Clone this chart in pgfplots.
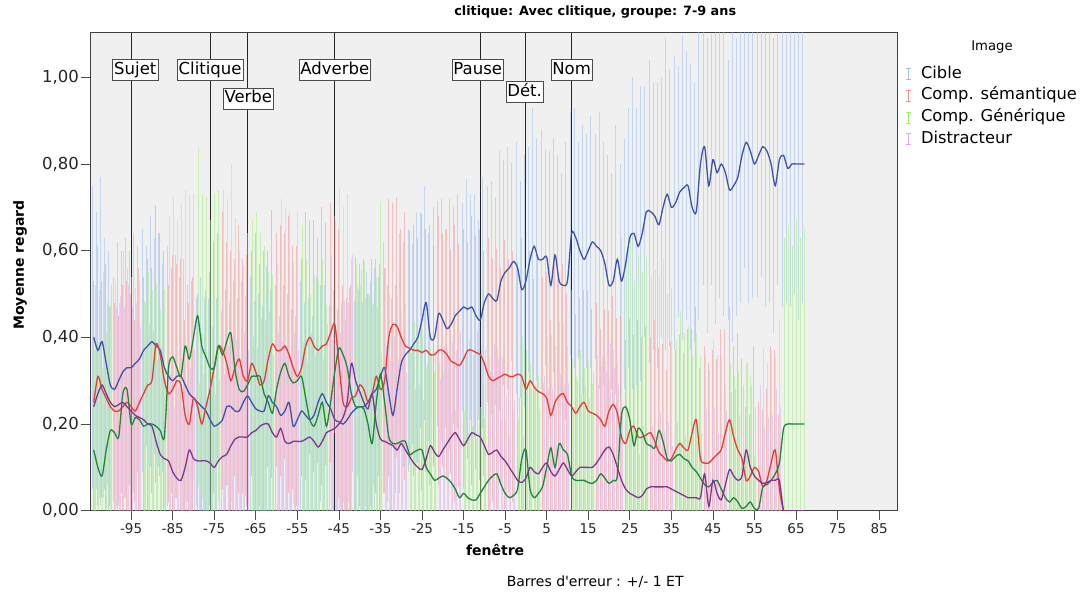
\documentclass[border=0pt]{standalone}
\usepackage{pgfplots}
\pgfplotsset{compat=1.18}
\usepackage{pgfplotstable}
\usepackage{fontspec}
\setmainfont{DejaVu Sans}[Ligatures=TeXOff]
\definecolor{cibD}{RGB}{62,84,168}
\definecolor{semD}{RGB}{230,60,55}
\definecolor{genD}{RGB}{30,135,60}
\definecolor{disD}{RGB}{125,55,145}
\definecolor{cibL}{RGB}{150,190,240}
\definecolor{semL}{RGB}{245,140,140}
\definecolor{genL}{RGB}{150,245,110}
\definecolor{disL}{RGB}{215,170,240}
\definecolor{bg}{RGB}{240,240,240}

\pgfplotstableread{
x cib csd sem ssd gen gsd dis dsd
-104 0.40 0.35 0.25 0.28 0.14 0.23 0.24 0.28
-103 0.37 0.32 0.31 0.30 0.10 0.29 0.27 0.24
-102 0.39 0.38 0.28 0.25 0.08 0.25 0.29 0.26
-101 0.34 0.29 0.26 0.31 0.14 0.27 0.27 0.21
-100 0.29 0.31 0.24 0.23 0.185 0.29 0.25 0.27
-99 0.28 0.26 0.23 0.25 0.18 0.35 0.24 0.23
-98 0.30 0.32 0.23 0.22 0.17 0.31 0.245 0.25
-97 0.32 0.28 0.24 0.28 0.27 0.33 0.25 0.22
-96 0.33 0.30 0.25 0.28 0.28 0.28 0.24 0.28
-95 0.33 0.27 0.24 0.26 0.20 0.34 0.23 0.24
-94 0.34 0.30 0.23 0.21 0.215 0.30 0.22 0.26
-93 0.35 0.26 0.25 0.31 0.21 0.32 0.215 0.21
-92 0.37 0.28 0.27 0.27 0.195 0.29 0.21 0.27
-91 0.38 0.23 0.29 0.29 0.20 0.35 0.20 0.23
-90 0.39 0.29 0.30 0.26 0.20 0.31 0.195 0.22
-89 0.38 0.25 0.385 0.32 0.195 0.33 0.16 0.19
-88 0.37 0.27 0.36 0.28 0.185 0.28 0.13 0.25
-87 0.33 0.24 0.30 0.30 0.17 0.34 0.12 0.21
-86 0.31 0.30 0.27 0.25 0.33 0.35 0.115 0.20
-85 0.30 0.26 0.28 0.31 0.355 0.37 0.09 0.15
-84 0.31 0.28 0.30 0.27 0.33 0.34 0.075 0.21
-83 0.31 0.23 0.29 0.29 0.31 0.40 0.07 0.17
-82 0.29 0.29 0.22 0.22 0.38 0.36 0.10 0.19
-81 0.27 0.25 0.20 0.28 0.35 0.38 0.14 0.19
-80 0.26 0.27 0.26 0.28 0.40 0.33 0.12 0.25
-79 0.25 0.24 0.24 0.26 0.45 0.39 0.115 0.18
-78 0.24 0.30 0.20 0.21 0.38 0.35 0.115 0.20
-77 0.23 0.26 0.24 0.27 0.355 0.37 0.115 0.15
-76 0.21 0.28 0.28 0.27 0.33 0.34 0.11 0.21
-75 0.195 0.23 0.33 0.29 0.33 0.40 0.10 0.17
-74 0.20 0.29 0.38 0.26 0.38 0.36 0.115 0.19
-73 0.21 0.25 0.37 0.32 0.36 0.38 0.125 0.19
-72 0.24 0.27 0.34 0.28 0.39 0.33 0.13 0.25
-71 0.24 0.24 0.30 0.30 0.41 0.39 0.15 0.21
-70 0.23 0.30 0.33 0.25 0.325 0.35 0.165 0.23
-69 0.23 0.26 0.35 0.31 0.28 0.32 0.17 0.18
-68 0.25 0.28 0.31 0.27 0.275 0.29 0.17 0.24
-67 0.265 0.23 0.30 0.29 0.29 0.35 0.17 0.20
-66 0.25 0.29 0.34 0.26 0.31 0.36 0.18 0.22
-65 0.235 0.25 0.32 0.32 0.31 0.38 0.185 0.19
-64 0.23 0.27 0.29 0.28 0.31 0.33 0.195 0.25
-63 0.23 0.24 0.30 0.30 0.27 0.34 0.20 0.24
-62 0.265 0.30 0.35 0.25 0.25 0.30 0.20 0.26
-61 0.25 0.26 0.385 0.31 0.225 0.32 0.18 0.18
-60 0.24 0.28 0.37 0.27 0.28 0.29 0.17 0.24
-59 0.22 0.23 0.37 0.29 0.32 0.40 0.19 0.20
-58 0.23 0.29 0.38 0.26 0.34 0.36 0.16 0.22
-57 0.25 0.25 0.36 0.32 0.31 0.38 0.155 0.19
-56 0.195 0.27 0.33 0.28 0.295 0.28 0.16 0.25
-55 0.21 0.24 0.31 0.30 0.30 0.39 0.16 0.21
-54 0.23 0.30 0.33 0.25 0.31 0.35 0.16 0.23
-53 0.22 0.26 0.38 0.31 0.26 0.32 0.165 0.18
-52 0.21 0.28 0.40 0.27 0.21 0.29 0.17 0.24
-51 0.22 0.23 0.38 0.29 0.195 0.35 0.16 0.20
-50 0.25 0.29 0.37 0.26 0.22 0.31 0.147 0.22
-49 0.27 0.25 0.38 0.32 0.25 0.33 0.16 0.19
-48 0.25 0.27 0.385 0.28 0.195 0.28 0.18 0.25
-47 0.235 0.24 0.41 0.30 0.25 0.34 0.185 0.21
-46 0.21 0.30 0.43 0.25 0.32 0.35 0.19 0.23
-45 0.205 0.26 0.34 0.31 0.375 0.37 0.20 0.21
-44 0.20 0.28 0.25 0.27 0.36 0.34 0.215 0.27
-43 0.21 0.23 0.24 0.25 0.33 0.40 0.25 0.23
-42 0.225 0.29 0.26 0.26 0.27 0.31 0.34 0.25
-41 0.235 0.25 0.265 0.32 0.24 0.33 0.30 0.22
-40 0.24 0.27 0.29 0.28 0.24 0.28 0.275 0.28
-39 0.24 0.24 0.28 0.30 0.235 0.34 0.25 0.24
-38 0.25 0.30 0.25 0.25 0.20 0.30 0.235 0.26
-37 0.27 0.26 0.27 0.31 0.155 0.32 0.27 0.21
-36 0.28 0.28 0.31 0.27 0.25 0.29 0.20 0.27
-35 0.31 0.23 0.28 0.29 0.315 0.40 0.165 0.20
-34 0.33 0.29 0.30 0.26 0.25 0.31 0.16 0.22
-33 0.27 0.25 0.40 0.32 0.17 0.33 0.155 0.19
-32 0.22 0.27 0.43 0.28 0.155 0.28 0.15 0.25
-31 0.28 0.24 0.425 0.30 0.155 0.34 0.14 0.21
-30 0.34 0.30 0.40 0.25 0.16 0.30 0.155 0.23
-29 0.36 0.26 0.38 0.31 0.16 0.32 0.14 0.18
-28 0.37 0.28 0.375 0.27 0.13 0.24 0.125 0.24
-27 0.385 0.23 0.37 0.29 0.135 0.30 0.11 0.17
-26 0.40 0.29 0.37 0.26 0.14 0.26 0.10 0.19
-25 0.44 0.25 0.365 0.32 0.14 0.28 0.095 0.16
-24 0.48 0.27 0.37 0.28 0.10 0.23 0.12 0.22
-23 0.40 0.24 0.36 0.30 0.085 0.29 0.15 0.21
-22 0.40 0.30 0.36 0.25 0.07 0.25 0.135 0.23
-21 0.455 0.26 0.37 0.31 0.075 0.27 0.125 0.18
-20 0.44 0.28 0.37 0.27 0.08 0.24 0.14 0.24
-19 0.42 0.23 0.36 0.29 0.075 0.30 0.155 0.20
-18 0.43 0.29 0.345 0.26 0.065 0.16 0.17 0.22
-17 0.45 0.25 0.34 0.32 0.05 0.18 0.18 0.19
-16 0.46 0.27 0.335 0.28 0.03 0.13 0.165 0.25
-15 0.47 0.24 0.35 0.30 0.04 0.19 0.15 0.21
-14 0.465 0.30 0.37 0.25 0.03 0.15 0.165 0.23
-13 0.47 0.26 0.37 0.31 0.025 0.17 0.18 0.18
-12 0.45 0.28 0.365 0.27 0.025 0.14 0.175 0.24
-11 0.44 0.23 0.36 0.29 0.04 0.20 0.17 0.20
-10 0.48 0.29 0.34 0.26 0.055 0.16 0.15 0.22
-9 0.50 0.25 0.31 0.32 0.07 0.28 0.13 0.19
-8 0.49 0.27 0.30 0.28 0.08 0.23 0.135 0.25
-7 0.485 0.24 0.305 0.30 0.085 0.29 0.14 0.21
-6 0.53 0.30 0.31 0.25 0.06 0.15 0.125 0.23
-5 0.55 0.26 0.315 0.31 0.04 0.17 0.115 0.15
-4 0.56 0.28 0.31 0.27 0.03 0.14 0.10 0.21
-3 0.575 0.23 0.31 0.29 0.035 0.20 0.085 0.17
-2 0.56 0.29 0.315 0.26 0.05 0.16 0.07 0.19
-1 0.51 0.25 0.31 0.32 0.12 0.28 0.065 0.11
0 0.53 0.29 0.28 0.28 0.14 0.23 0.075 0.22
1 0.58 0.26 0.30 0.30 0.05 0.29 0.10 0.18
2 0.61 0.32 0.285 0.25 0.03 0.25 0.09 0.20
3 0.58 0.28 0.275 0.31 0.04 0.27 0.085 0.15
4 0.58 0.30 0.27 0.27 0.055 0.24 0.10 0.21
5 0.585 0.25 0.26 0.29 0.10 0.30 0.11 0.17
6 0.52 0.31 0.22 0.22 0.145 0.26 0.09 0.19
7 0.59 0.27 0.25 0.32 0.10 0.28 0.08 0.16
8 0.53 0.29 0.265 0.28 0.155 0.28 0.095 0.22
9 0.52 0.26 0.27 0.30 0.14 0.29 0.11 0.18
10 0.53 0.32 0.25 0.25 0.13 0.25 0.095 0.20
11 0.64 0.28 0.24 0.27 0.08 0.27 0.08 0.15
12 0.63 0.30 0.225 0.23 0.07 0.24 0.09 0.21
13 0.60 0.25 0.24 0.25 0.07 0.30 0.10 0.17
14 0.58 0.31 0.25 0.26 0.07 0.26 0.10 0.19
15 0.60 0.27 0.23 0.28 0.065 0.28 0.10 0.16
16 0.62 0.29 0.225 0.24 0.063 0.23 0.10 0.22
17 0.61 0.26 0.22 0.26 0.07 0.29 0.11 0.18
18 0.60 0.32 0.21 0.21 0.085 0.25 0.125 0.23
19 0.57 0.28 0.195 0.27 0.075 0.27 0.14 0.18
20 0.52 0.30 0.23 0.23 0.063 0.24 0.147 0.24
21 0.53 0.25 0.245 0.25 0.07 0.30 0.13 0.20
22 0.58 0.31 0.225 0.22 0.08 0.26 0.10 0.19
23 0.53 0.27 0.17 0.28 0.22 0.41 0.07 0.16
24 0.57 0.29 0.155 0.24 0.24 0.36 0.05 0.17
25 0.63 0.30 0.185 0.26 0.21 0.42 0.04 0.13
26 0.64 0.36 0.195 0.21 0.15 0.38 0.035 0.15
27 0.61 0.32 0.17 0.27 0.19 0.40 0.03 0.10
28 0.64 0.34 0.17 0.23 0.18 0.37 0.035 0.16
29 0.69 0.29 0.175 0.25 0.155 0.43 0.05 0.12
30 0.69 0.35 0.18 0.22 0.15 0.39 0.055 0.14
31 0.68 0.31 0.16 0.28 0.145 0.41 0.055 0.11
32 0.66 0.33 0.135 0.24 0.185 0.36 0.055 0.17
33 0.70 0.30 0.125 0.26 0.16 0.42 0.055 0.13
34 0.73 0.36 0.115 0.21 0.12 0.38 0.055 0.15
35 0.70 0.32 0.12 0.27 0.115 0.40 0.05 0.10
36 0.71 0.34 0.14 0.23 0.125 0.27 0.045 0.16
37 0.735 0.29 0.155 0.25 0.13 0.33 0.04 0.12
38 0.745 0.35 0.145 0.22 0.12 0.29 0.035 0.14
39 0.75 0.31 0.14 0.28 0.115 0.31 0.03 0.11
40 0.70 0.33 0.18 0.24 0.10 0.26 0.03 0.17
41 0.69 0.30 0.21 0.26 0.09 0.32 0.03 0.13
42 0.80 0.36 0.12 0.21 0.075 0.28 0.03 0.15
43 0.84 0.32 0.11 0.27 0.06 0.30 0.085 0.15
44 0.75 0.34 0.11 0.23 0.055 0.27 0.01 0.08
45 0.81 0.29 0.12 0.25 0.065 0.33 0.07 0.17
46 0.78 0.35 0.13 0.22 0.07 0.29 0.04 0.14
47 0.80 0.31 0.14 0.28 0.05 0.31 0.025 0.11
48 0.78 0.33 0.18 0.24 0.03 0.26 0.06 0.17
49 0.74 0.30 0.21 0.26 0.02 0.32 0.095 0.18
50 0.75 0.36 0.17 0.21 0.03 0.28 0.08 0.20
51 0.77 0.32 0.14 0.27 0.02 0.30 0.07 0.15
52 0.82 0.34 0.12 0.23 0.005 0.10 0.08 0.21
53 0.85 0.29 0.07 0.17 0.01 0.33 0.14 0.20
54 0.83 0.35 0.08 0.14 0.02 0.29 0.10 0.19
55 0.80 0.31 0.10 0.28 0.005 0.12 0.08 0.16
56 0.82 0.33 0.09 0.16 0.005 0.10 0.07 0.22
57 0.84 0.30 0.055 0.18 0.055 0.32 0.063 0.13
58 0.83 0.36 0.07 0.21 0.06 0.28 0.065 0.15
59 0.80 0.32 0.11 0.27 0.07 0.30 0.07 0.15
60 0.75 0.34 0.14 0.23 0.085 0.27 0.07 0.21
61 0.81 0.29 0.05 0.17 0.11 0.33 0.07 0.17
62 0.82 0.35 0 0 0.19 0.44 0 0
63 0.79 0.31 0 0 0.20 0.46 0 0
64 0.80 0.33 0 0 0.20 0.41 0 0
65 0.80 0.30 0 0 0.20 0.47 0 0
66 0.80 0.36 0 0 0.20 0.43 0 0
67 0.80 0.32 0 0 0.20 0.45 0 0
}\data

\pgfplotsset{
  errlegend/.style={legend image code/.code={
    \draw[##1, line width=1.1pt] (3pt,-5.5pt) -- (3pt,5.5pt);
    \draw[##1, line width=0.8pt] (0.5pt,-5.5pt) -- (5.5pt,-5.5pt) (0.5pt,5.5pt) -- (5.5pt,5.5pt);
  }},
  ebar/.style={forget plot, draw=none, mark=none,
    error bars/.cd, y dir=both, y explicit, error mark=none,
    error bar style={draw=#1, line width=1pt, opacity=0.5}},
  mline/.style={forget plot, no markers, smooth, tension=0.45, line width=1.3pt, color=#1},
}

\begin{document}
\begin{tikzpicture}
\useasboundingbox (0,0) rectangle (1090pt,594pt);
\begin{axis}[
  at={(90pt,83.3pt)}, anchor=south west,
  scale only axis, width=807pt, height=478pt,
  xmin=-104.9, xmax=89.3, ymin=0, ymax=1.103,
  clip mode=individual,
  axis background/.style={fill=bg},
  axis line style={black!75, line width=0.8pt},
  xtick={-95,-85,...,85},
  xticklabels={-95,-85,-75,-65,-55,-45,-35,-25,-15,-5,5,15,25,35,45,55,65,75,85},
  ytick={0,0.2,0.4,0.6,0.8,1.0},
  yticklabels={{0,00},{0,20},{0,40},{0,60},{0,80},{1,00}},
  tick align=outside, xtick pos=bottom, ytick pos=left,
  major tick length=9pt,
  tick style={black!70, line width=0.8pt},
  xticklabel style={font=\fontsize{13.5}{14}\selectfont, text=black!85},
  yticklabel style={font=\fontsize{16.5}{18}\selectfont, text=black!85, inner xsep=2pt},
  extra x ticks={-95,-76,-67,-46,-11,0,11},
  extra x tick labels={},
  extra x tick style={major tick length=0pt, grid=major, major grid style={black!85, line width=1pt}},
  title={clitique: Avec clitique, groupe: 7-9 ans},
  title style={at={(axis description cs:0.626,1.031)}, anchor=center, font=\bfseries\fontsize{12.8}{14}\selectfont},
  xlabel={fenêtre},
  xlabel style={at={(axis description cs:0.502,-0.082)}, anchor=center, font=\bfseries\fontsize{14}{16}\selectfont},
  ylabel={Moyenne regard},
  ylabel style={at={(axis description cs:-0.0867,0.514)}, anchor=center, font=\bfseries\fontsize{14}{16}\selectfont},
  legend style={at={(axis description cs:1,1)}, anchor=north west, xshift=8pt, yshift=-30.3pt,
    draw=none, fill=none, font=\fontsize{16.3}{18}\selectfont, row sep=0pt, column sep=10pt,
    inner sep=0pt, nodes={inner sep=0pt, text height=15pt, text depth=6.7pt}},
  legend cell align=left,
]
\addplot[ebar=cibL] table[x expr=\thisrow{x}-0.36, y=cib, y error=csd] {\data};
\addplot[ebar=semL] table[x expr=\thisrow{x}-0.12, y=sem, y error=ssd] {\data};
\addplot[ebar=genL] table[x expr=\thisrow{x}+0.12, y=gen, y error=gsd] {\data};
\addplot[ebar=disL] table[x expr=\thisrow{x}+0.36, y=dis, y error=dsd] {\data};

\addplot[mline=cibD] table[x=x, y=cib] {\data};
\addplot[mline=semD] table[x=x, y=sem] {\data};
\addplot[mline=genD] table[x=x, y=gen] {\data};
\addplot[mline=disD] table[x=x, y=dis] {\data};

\addlegendimage{errlegend, color=cibL}
\addlegendentry{Cible}
\addlegendimage{errlegend, color=semL}
\addlegendentry{Comp. sémantique}
\addlegendimage{errlegend, color=genL}
\addlegendentry{Comp. Générique}
\addlegendimage{errlegend, color=disL}
\addlegendentry{Distracteur}

\tikzset{evlab/.style={draw=black!70, fill=white, line width=0.7pt, inner xsep=1.5pt, inner ysep=2.2pt, text height=12.5pt, text depth=4pt, font=\fontsize{16.5}{18}\selectfont}}
\node[evlab] at (axis cs:-94,1.017) {Sujet};
\node[evlab] at (axis cs:-76,1.017) {Clitique};
\node[evlab] at (axis cs:-66.8,0.951) {Verbe};
\node[evlab] at (axis cs:-46,1.017) {Adverbe};
\node[evlab] at (axis cs:-11.6,1.017) {Pause};
\node[evlab] at (axis cs:-0.3,0.966) {Dét.};
\node[evlab] at (axis cs:11,1.017) {Nom};

\node[font=\fontsize{13.2}{15}\selectfont] at (axis description cs:1.1177,0.970) {Image};
\node[font=\fontsize{14}{16}\selectfont] at (axis description cs:0.626,-0.149) {Barres d'erreur : +/- 1 ET};
\end{axis}
\end{tikzpicture}
\end{document}
